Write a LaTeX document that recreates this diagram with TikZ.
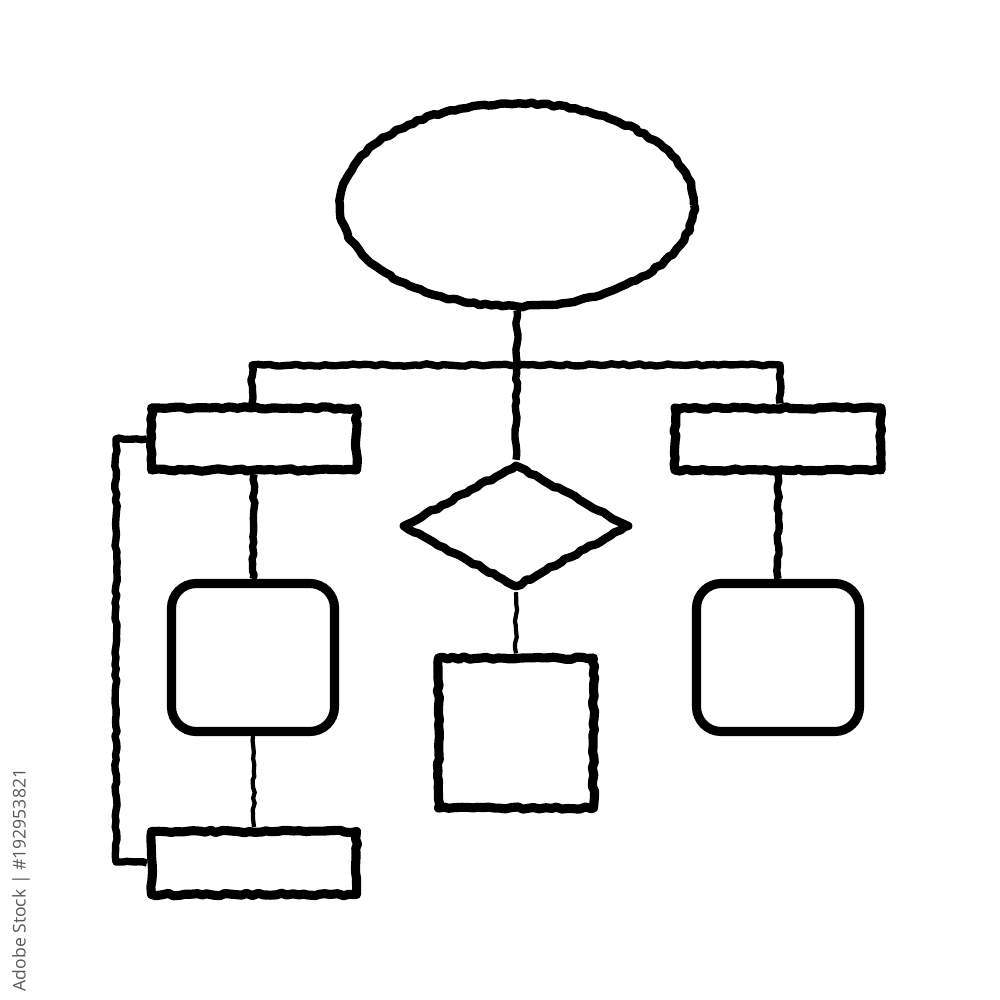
\documentclass[tikz,border=0pt]{standalone}
\usepackage{fontspec}
\newfontfamily\wmfont{Open Sans}
\usetikzlibrary{shapes.geometric,decorations.pathmorphing}
\begin{document}
\begin{tikzpicture}[
  rough/.style={decorate,decoration={random steps,segment length=1.6pt,amplitude=0.35pt}},
  shapeline/.style={draw=black,line width=2.6pt,inner sep=0pt,line join=round},
  boxnode/.style={shapeline,rough,rectangle},
  roundnode/.style={shapeline,rectangle,rounded corners=7pt},
  conn/.style={draw=black,line width=2.1pt,rough,line join=round},
  thinconn/.style={draw=black,line width=1.2pt,rough},
  idtext/.style={font=\wmfont\fontsize{5pt}{6pt}\selectfont,text=black!65,rotate=90,inner sep=0pt}
]
\useasboundingbox (0,0) rectangle (10,-10);
\fill[white] (0,0) rectangle (10,-10);

\node[shapeline,rough,ellipse,line width=2.4pt,minimum width=3.54cm,minimum height=2.03cm] (E) at (5.17,-2.05) {};
\node[boxnode,minimum width=2.05cm,minimum height=0.62cm] (TL) at (2.54,-4.39) {};
\node[boxnode,minimum width=2.06cm,minimum height=0.62cm] (TR) at (7.78,-4.39) {};
\node[shapeline,rough,diamond,line width=2.4pt,minimum width=2.28cm,minimum height=1.24cm] (D) at (5.16,-5.26) {};
\node[boxnode,minimum width=1.55cm,minimum height=1.50cm] (S) at (5.16,-7.33) {};
\node[roundnode,minimum width=1.63cm,minimum height=1.48cm] (LR) at (2.53,-6.575) {};
\node[roundnode,minimum width=1.63cm,minimum height=1.48cm] (RR) at (7.78,-6.575) {};
\node[boxnode,minimum width=2.05cm,minimum height=0.63cm] (B) at (2.54,-8.63) {};

\coordinate (HL) at (2.52,-3.65);
\coordinate (HR) at (7.80,-3.65);
\coordinate (LT) at (1.16,-4.39);
\coordinate (LB) at (1.16,-8.62);

\draw[conn] (E.south) -- (D.north);
\draw[conn] (TL.north -| HL) -- (HL) -- (HR) -- (TR.north -| HR);
\draw[conn] (TL.south) -- (LR.north);
\draw[conn] (TR.south) -- (RR.north);
\draw[thinconn] (LR.south) -- (B.north);
\draw[thinconn] (D.south) -- (S.north);
\draw[conn] (TL.west) -- (LT) -- (LB) -- (B.west);

\node[idtext] (ID) at (0.21,-8.80) {Adobe Stock | \#192953821};
\end{tikzpicture}
\end{document}
